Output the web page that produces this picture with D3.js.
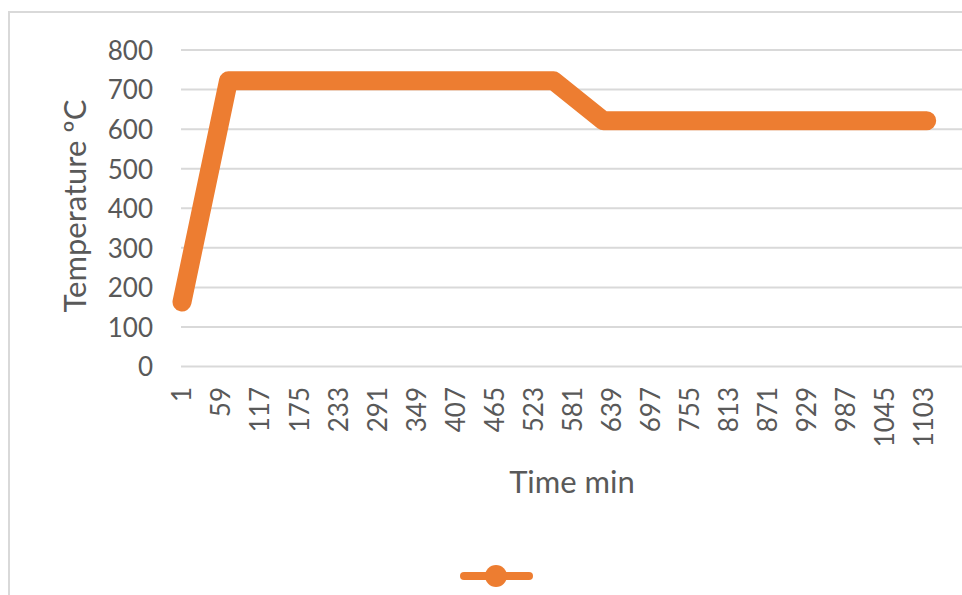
<!DOCTYPE html>
<html>
<head>
<meta charset="utf-8">
<script src="https://cdn.jsdelivr.net/npm/d3@7"></script>
<style>
  html, body { margin: 0; padding: 0; background: #fff; }
  svg { display: block; }
  text { font-family: Lato, "Open Sans", sans-serif; fill: #595959; }
</style>
</head>
<body>
<svg id="chart" width="962" height="595"></svg>
<script>
// Furnace temperature profile (minute index, °C)
const timeMin = [1, 70, 553, 627, 1107];
const temperature = [163, 722, 722, 621, 621];
const yTicks = [0, 100, 200, 300, 400, 500, 600, 700, 800];
const xTickLabels = [1, 59, 117, 175, 233, 291, 349, 407, 465, 523, 581, 639, 697, 755, 813, 871, 929, 987, 1045, 1103];
const yTitle = "Temperature ºC";
const xTitle = "Time min";

const W = 962, H = 595;
const svg = d3.select("#chart");

// chart frame
svg.append("rect")
  .attr("x", 9).attr("y", 12)
  .attr("width", W + 20).attr("height", H + 20)
  .attr("fill", "#fff")
  .attr("stroke", "#d9d9d9").attr("stroke-width", 2);

const plotLeft = 181, plotRight = W;
const x = d3.scaleLinear().domain([1, 1103]).range([182, 924]);
const y = d3.scaleLinear().domain([0, 800]).range([366.5, 50]);

// horizontal gridlines
svg.append("g").selectAll("line").data(yTicks).join("line")
  .attr("x1", plotLeft).attr("x2", plotRight)
  .attr("y1", d => y(d)).attr("y2", d => y(d))
  .attr("stroke", "#d9d9d9").attr("stroke-width", 2);

// y axis labels
const yAxis = d3.axisLeft(y).tickValues(yTicks).tickSize(0).tickPadding(0);
const gy = svg.append("g").attr("transform", "translate(153,0)").call(yAxis);
gy.select(".domain").remove();
gy.selectAll("text")
  .attr("font-size", 26).attr("font-family", "Lato, sans-serif")
  .attr("fill", "#595959").attr("dy", "0.36em");

// x axis labels (rotated)
svg.append("g").selectAll("text").data(xTickLabels).join("text")
  .attr("transform", d => `translate(${x(d)},387) rotate(-90)`)
  .attr("text-anchor", "end")
  .attr("dy", "0.36em")
  .attr("font-size", 26)
  .text(d => d);

// axis titles
svg.append("text")
  .attr("transform", "translate(75,206) rotate(-90)")
  .attr("text-anchor", "middle")
  .attr("dy", "0.36em")
  .attr("font-size", 31)
  .text(yTitle);

svg.append("text")
  .attr("x", 572).attr("y", 493)
  .attr("text-anchor", "middle")
  .attr("font-size", 31)
  .text(xTitle);

// temperature line
const line = d3.line().x((d, i) => x(timeMin[i])).y(d => y(d));
svg.append("path")
  .datum(temperature)
  .attr("d", line)
  .attr("fill", "none")
  .attr("stroke", "#ED7D31")
  .attr("stroke-width", 19)
  .attr("stroke-linejoin", "round")
  .attr("stroke-linecap", "round");

// legend
const lg = svg.append("g").attr("transform", "translate(496,576)");
lg.append("line").attr("x1", -32).attr("x2", 33)
  .attr("stroke", "#ED7D31").attr("stroke-width", 8).attr("stroke-linecap", "round");
lg.append("circle").attr("r", 11).attr("fill", "#ED7D31");
</script>
</body>
</html>
